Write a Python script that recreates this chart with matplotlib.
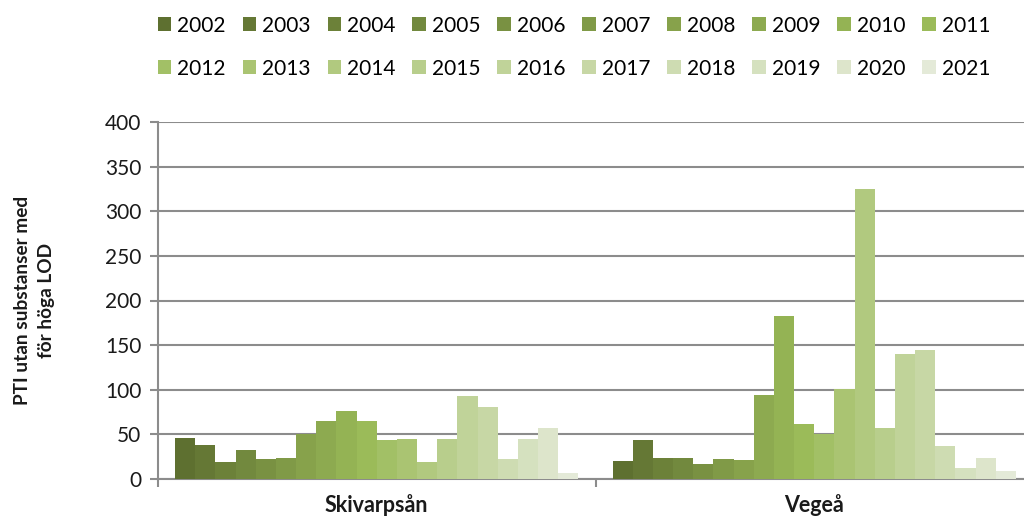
import numpy as np
import matplotlib
matplotlib.use('Agg')
import matplotlib.pyplot as plt
from matplotlib.patches import Patch

plt.rcParams['font.family'] = ['Lato', 'DejaVu Sans']

years = [str(y) for y in range(2002, 2022)]
sites = ['Skivarpsån', 'Vegeå']
skivarpsan = [46, 38, 19, 33, 22, 23, 50, 65, 76, 65, 44, 45, 19, 45, 93, 81, 22, 45, 57, 7]
vegea = [20, 44, 24, 24, 17, 22, 21, 94, 183, 62, 50, 101, 325, 57, 140, 144, 37, 12, 24, 9]

# colour ramp: dark olive -> excel green (2011) -> very pale green
dark = np.array([94, 112, 48]) / 255
mid = np.array([155, 187, 89]) / 255
light = np.array([228, 234, 216]) / 255
colors = []
for i in range(20):
    if i <= 9:
        t = i / 9
        colors.append(dark + (mid - dark) * t)
    else:
        t = (i - 9) / 10
        colors.append(mid + (light - mid) * t)

fig = plt.figure(figsize=(10.24, 5.22), dpi=100)
ax = fig.add_axes([158 / 1024, 1 - 479 / 522, (1033 - 158) / 1024, (479 - 122) / 522])

n = len(years)
group = 0.922
w = group / n
x = np.arange(len(sites))
for i, yr in enumerate(years):
    vals = [skivarpsan[i], vegea[i]]
    ax.bar(x - group / 2 + (i + 0.5) * w, vals, width=w, color=colors[i],
           edgecolor='none', label=yr, zorder=3)

ax.set_xlim(-0.5, 1.5)
ax.set_ylim(0, 400)
ax.set_yticks(range(0, 401, 50))
ax.grid(axis='y', color='#8c8c8c', linewidth=1.5, zorder=0)

for s in ['top', 'right']:
    ax.spines[s].set_visible(False)
for s in ['left', 'bottom']:
    ax.spines[s].set_color('#8c8c8c')
    ax.spines[s].set_linewidth(1.5)

ax.set_xticks([-0.5, 0.5, 1.5])
ax.set_xticklabels([])
ax.set_xticks(x, minor=True)
ax.set_xticklabels(sites, minor=True, fontsize=15.5, fontweight='bold', color='#1a1a1a')
ax.tick_params(axis='x', which='minor', length=0, pad=11)
ax.tick_params(axis='x', which='major', length=6, width=1.5, color='#8c8c8c')
ax.tick_params(axis='y', length=6, width=1.5, color='#8c8c8c', labelsize=15,
               labelcolor='#1a1a1a', pad=6)

ax.set_ylabel('PTI utan substanser med\nför höga LOD', fontsize=13.7, fontweight='bold',
              color='#1a1a1a', labelpad=36, linespacing=1.5)

handles = [Patch(facecolor=colors[i], edgecolor='none', label=years[i]) for i in range(n)]
order = []
for j in range(10):
    order += [j, j + 10]
fig.legend([handles[k] for k in order], [years[k] for k in order], ncol=10,
           loc='upper left', bbox_to_anchor=(142 / 1024, 1.0), frameon=False,
           fontsize=15, handlelength=0.65, handleheight=0.65, handletextpad=0.3,
           columnspacing=0.8, labelspacing=1.1, borderaxespad=0.35)

fig.savefig('out.png', dpi=100)
